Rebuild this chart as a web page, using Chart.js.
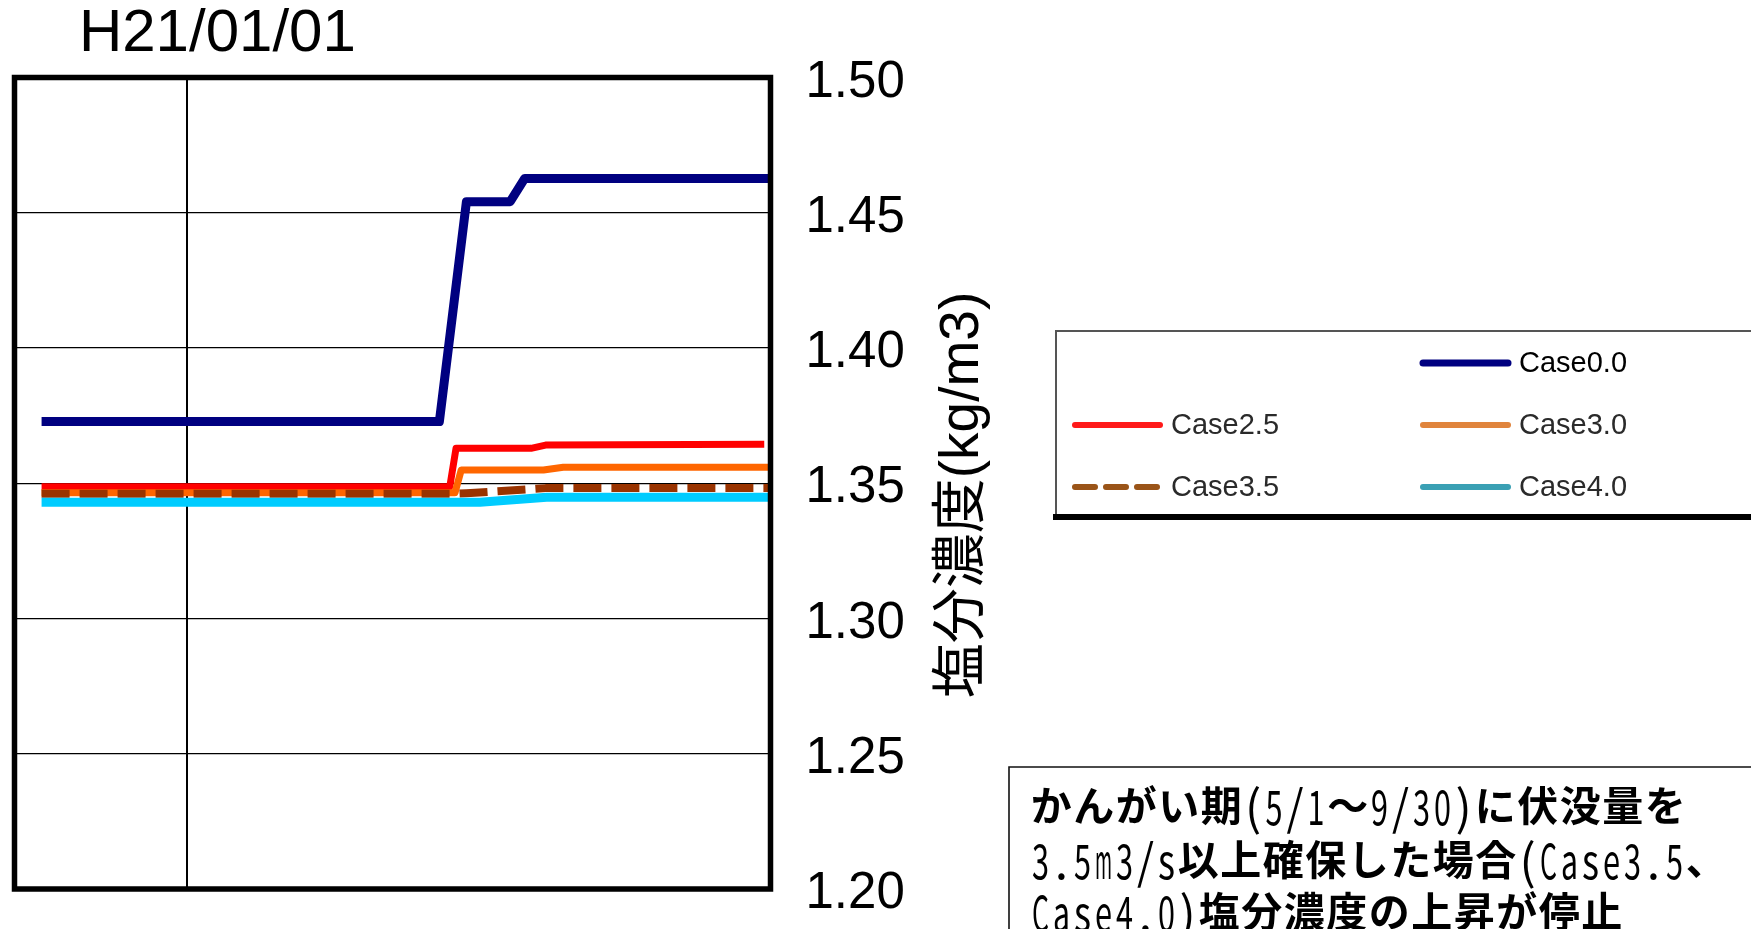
<!DOCTYPE html>
<html>
<head>
<meta charset="utf-8">
<script src="https://cdn.jsdelivr.net/npm/chart.js@4/dist/chart.umd.min.js"></script>
<style>
  html, body { margin: 0; padding: 0; background: #fff; overflow: hidden; }
  canvas { display: block; }
</style>
</head>
<body>
<canvas id="chart" width="1751" height="929"></canvas>
<script>
// x values are days counted from H21/01/01
const xTickValues = [0];
const xTickLabels = ['H21/01/01'];
const yTickValues = [1.20, 1.25, 1.30, 1.35, 1.40, 1.45, 1.50];

const seriesNames = ['Case0.0', 'Case2.5', 'Case3.0', 'Case3.5', 'Case4.0'];

const case00Days = [-70, 121, 134, 155, 162, 280];
const case00Salt = [1.3728, 1.3728, 1.4541, 1.4541, 1.4627, 1.4627];

const case25Days = [-70, 126, 129, 165, 172, 277];
const case25Salt = [1.3487, 1.3487, 1.3629, 1.3629, 1.3641, 1.3644];

const case30Days = [-70, 128.5, 131.5, 171, 180.5, 280];
const case30Salt = [1.3465, 1.3465, 1.3549, 1.3549, 1.3559, 1.3559];

const case35Days = [-70, 128.5, 134, 148, 164.5, 172, 280];
const case35Salt = [1.3461, 1.3461, 1.3463, 1.3470, 1.3478, 1.3482, 1.3482];

const case40Days = [-70, 140.5, 172.5, 280];
const case40Salt = [1.3430, 1.3430, 1.3448, 1.3448];

const lineColors = ['#000080', '#ff0000', '#ff6600', '#993300', '#00ccff'];
const legendColors = ['#000080', '#ff1a1a', '#e0843c', '#9a5418', '#3aa0b4'];

const noteLines = [
  'かんがい期(5/1～9/30)に伏没量を',
  '3.5m3/s以上確保した場合(Case3.5、',
  'Case4.0)塩分濃度の上昇が停止'
];
const yTitle = '塩分濃度(kg/m3)';

function pts(xs, ys) { return xs.map((x, i) => ({ x: x, y: ys[i] })); }

const datasets = [
  { label: seriesNames[0], data: pts(case00Days, case00Salt), borderColor: lineColors[0], borderWidth: 9, order: 5 },
  { label: seriesNames[1], data: pts(case25Days, case25Salt), borderColor: lineColors[1], borderWidth: 7, order: 4 },
  { label: seriesNames[2], data: pts(case30Days, case30Salt), borderColor: lineColors[2], borderWidth: 7, order: 3 },
  { label: seriesNames[3], data: pts(case35Days, case35Salt), borderColor: lineColors[3], borderWidth: 8, order: 2,
    borderDash: [28, 10], borderCapStyle: 'butt' },
  { label: seriesNames[4], data: pts(case40Days, case40Salt), borderColor: lineColors[4], borderWidth: 9, order: 1 }
];

// frame, legend panel, note box and rotated axis title
const decorations = {
  id: 'decorations',
  afterDatasetsDraw(chart) {
    const ctx = chart.ctx;
    const a = chart.chartArea;
    ctx.save();
    ctx.strokeStyle = '#000';
    ctx.lineWidth = 5.5;
    ctx.strokeRect(a.left, a.top, a.right - a.left, a.bottom - a.top);
    ctx.restore();
  },
  afterDraw(chart) {
    const ctx = chart.ctx;

    // axis title, reading bottom to top
    ctx.save();
    ctx.translate(963, 495);
    ctx.rotate(-Math.PI / 2);
    ctx.font = '55px "Liberation Sans", "Noto Sans CJK JP"';
    ctx.fillStyle = '#000';
    ctx.textAlign = 'center';
    ctx.textBaseline = 'middle';
    ctx.fillText(yTitle, 0, 0);
    ctx.restore();

    // legend panel
    ctx.save();
    ctx.filter = 'blur(0.7px)';
    ctx.fillStyle = '#fff';
    ctx.fillRect(1056, 331, 700, 186);
    ctx.strokeStyle = '#555';
    ctx.lineWidth = 2;
    ctx.beginPath();
    ctx.moveTo(1756, 331); ctx.lineTo(1056, 331); ctx.lineTo(1056, 516);
    ctx.stroke();
    ctx.strokeStyle = '#000';
    ctx.lineWidth = 6;
    ctx.beginPath();
    ctx.moveTo(1053, 517); ctx.lineTo(1756, 517);
    ctx.stroke();
    const slots = [[1, 0], [0, 1], [1, 1], [0, 2], [1, 2]];
    const colX = [1072, 1420];
    const rowY = [363, 425, 487];
    ctx.font = '29px "Liberation Sans"';
    ctx.textBaseline = 'middle';
    chart.data.datasets.forEach((ds, i) => {
      const sx = colX[slots[i][0]];
      const sy = rowY[slots[i][1]];
      ctx.strokeStyle = legendColors[i];
      ctx.lineWidth = i === 0 ? 7 : 6;
      ctx.lineCap = 'round';
      ctx.setLineDash(ds.borderDash ? [20, 11] : []);
      ctx.beginPath();
      ctx.moveTo(sx + 3, sy); ctx.lineTo(sx + 88, sy);
      ctx.stroke();
      ctx.setLineDash([]);
      ctx.fillStyle = i === 0 ? '#000' : '#2a2a2a';
      ctx.fillText(ds.label, sx + 99, sy + 1);
    });
    ctx.restore();

    // note box
    ctx.save();
    ctx.strokeStyle = '#111';
    ctx.lineWidth = 1.6;
    ctx.beginPath();
    ctx.moveTo(1760, 767); ctx.lineTo(1009, 767); ctx.lineTo(1009, 935);
    ctx.stroke();
    ctx.fillStyle = '#000';
    ctx.textBaseline = 'middle';
    ctx.textAlign = 'center';
    const lineY = [805, 859, 911];
    noteLines.forEach((t, li) => {
      let cx = 1030;
      for (const ch of t) {
        const half = ch.charCodeAt(0) < 0x2000;
        const adv = half ? 21 : 42.5;
        ctx.font = half ? '400 48px "Noto Sans CJK JP"' : '700 41px "Noto Sans CJK JP"';
        const w = ctx.measureText(ch).width;
        const s = half ? Math.min(1, (adv - 4) / w) : 1;
        ctx.save();
        ctx.translate(cx + adv / 2, lineY[li] + (half ? 2 : 0));
        ctx.scale(s, 1);
        ctx.fillText(ch, 0, 0);
        ctx.restore();
        cx += adv;
      }
    });
    ctx.restore();
  }
};

new Chart(document.getElementById('chart'), {
  type: 'line',
  data: { datasets: datasets },
  options: {
    responsive: false,
    animation: false,
    devicePixelRatio: 1,
    layout: { padding: { left: 14.5, top: 0, right: 0, bottom: 40 } },
    elements: {
      point: { radius: 0 },
      line: { tension: 0, borderJoinStyle: 'round', borderCapStyle: 'butt', fill: false }
    },
    plugins: { legend: { display: false }, tooltip: { enabled: false } },
    scales: {
      x: {
        type: 'linear',
        position: 'top',
        min: -83,
        max: 280,
        afterFit(scale) {
          scale.height = 77.5;
          scale.paddingLeft = 0;
          scale.paddingRight = 0;
        },
        afterBuildTicks(scale) { scale.ticks = xTickValues.map(v => ({ value: v })); },
        border: { display: false },
        grid: { color: '#000', lineWidth: 2, drawTicks: false },
        ticks: {
          padding: 7,
          labelOffset: 30,
          maxRotation: 0,
          autoSkip: false,
          color: '#000',
          font: { family: '"Liberation Sans"', size: 60 },
          callback: (v) => xTickLabels[xTickValues.indexOf(v)]
        }
      },
      y: {
        type: 'linear',
        position: 'right',
        min: 1.20,
        max: 1.50,
        afterFit(scale) {
          scale.width = 980.5;
          scale.paddingTop = 0;
          scale.paddingBottom = 0;
        },
        afterBuildTicks(scale) { scale.ticks = yTickValues.map(v => ({ value: v })); },
        border: { display: false },
        grid: { color: '#000', lineWidth: 1.2, drawTicks: false },
        ticks: {
          padding: 35,
          labelOffset: 5,
          color: '#000',
          autoSkip: false,
          font: { family: '"Liberation Sans"', size: 51 },
          callback: (v) => Number(v).toFixed(2)
        }
      }
    }
  },
  plugins: [decorations]
});
</script>
</body>
</html>
